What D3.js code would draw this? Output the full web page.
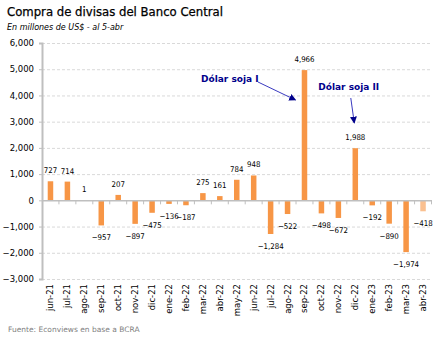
<!DOCTYPE html>
<html><head><meta charset="utf-8">
<script src="https://cdn.jsdelivr.net/npm/d3@7"></script>
<style>body{margin:0;background:#fff}svg{display:block}</style>
</head><body>
<script>
const categories = ["jun-21","jul-21","ago-21","sep-21","oct-21","nov-21","dic-21","ene-22","feb-22","mar-22","abr-22","may-22","jun-22","jul-22","ago-22","sep-22","oct-22","nov-22","dic-22","ene-23","feb-23","mar-23","abr-23"];
const values = [727,714,1,-957,207,-897,-475,-136,-187,275,161,784,948,-1284,-522,4966,-498,-672,1988,-192,-890,-1974,-418];
const yTicks = [6000,5000,4000,3000,2000,1000,0,-1000,-2000,-3000];
const title = "Compra de divisas del Banco Central";
const subtitle = "En millones de US$ - al 5-abr";
const source = "Fuente: Econviews en base a BCRA";
const annotations = [
  {text:"Dólar soja I", cat:"sep-22"},
  {text:"Dólar soja II", cat:"dic-22"}
];

const W=443,H=340;
const svg=d3.select("body").append("svg").attr("width",W).attr("height",H);
const font="'DejaVu Sans', Verdana, sans-serif";
const fontC="'DejaVu Sans Condensed', 'DejaVu Sans', sans-serif";
const x=d3.scaleBand().domain(categories).range([42,431.5]).paddingInner(0).paddingOuter(0);
const y=d3.scaleLinear().domain([-3000,6000]).range([279,43]);
const fmt=d3.format(",");

svg.append("text").attr("x",7).attr("y",16).attr("font-family",font).attr("font-size",11.7)
  .attr("fill","#000").attr("stroke","#000").attr("stroke-width",0.25).text(title);
svg.append("text").attr("x",7).attr("y",30).attr("font-family",font).attr("font-size",8).attr("font-style","italic").attr("fill","#000").text(subtitle);

// gridlines
svg.append("g").selectAll("line").data(yTicks.filter(d=>d!==0)).join("line")
  .attr("x1",42).attr("x2",432).attr("y1",d=>y(d)+0.5).attr("y2",d=>y(d)+0.5)
  .attr("stroke","#d9d9d9").attr("stroke-dasharray","3,2").attr("stroke-width",1);

// y axis
const yAxis=d3.axisLeft(y).tickValues(yTicks).tickFormat(fmt).tickSize(3).tickPadding(5);
const gy=svg.append("g").attr("transform","translate(42,0)").call(yAxis);
gy.select(".domain").attr("stroke","#bfbfbf").attr("stroke-width",2);
gy.selectAll(".tick line").attr("stroke","#bfbfbf");
gy.selectAll("text").attr("font-family",font).attr("font-size",8.5).attr("fill","#000");

// bars
svg.append("g").selectAll("rect").data(values).join("rect")
  .attr("x",(d,i)=>x(categories[i])+x.bandwidth()/2-2.75)
  .attr("width",5.5)
  .attr("y",d=>y(Math.max(0,d)))
  .attr("height",d=>Math.abs(y(d)-y(0)))
  .attr("fill",(d,i)=>i===values.length-1?"#fac090":"#f79646");

// x axis at zero
const gx=svg.append("g").attr("transform",`translate(0,${y(0)})`);
gx.append("line").attr("x1",42).attr("x2",432).attr("y1",0.5).attr("y2",0.5).attr("stroke","#bfbfbf").attr("stroke-width",1.5);
gx.selectAll(".tk").data(categories).join("line")
  .attr("x1",(d,i)=>42+x.step()*(i+1)).attr("x2",(d,i)=>42+x.step()*(i+1))
  .attr("y1",0).attr("y2",4).attr("stroke","#bfbfbf");

// x labels
svg.append("g").selectAll("text").data(categories).join("text")
  .attr("transform",d=>`translate(${x(d)+x.bandwidth()/2+3},284) rotate(-90)`)
  .attr("text-anchor","end").attr("font-family",font).attr("font-size",8.5).attr("fill","#000").text(d=>d);

// data labels
svg.append("g").selectAll("text").data(values).join("text")
  .attr("x",(d,i)=>x(categories[i])+x.bandwidth()/2)
  .attr("y",d=>d>=0?y(d)-8:y(d)+15)
  .attr("text-anchor","middle").attr("font-family",fontC).attr("font-size",7.8).attr("fill","#000")
  .text(d=>fmt(d));

// annotations
const navy="#00008b";
const defs=svg.append("defs");
defs.append("marker").attr("id","ah").attr("viewBox","0 0 10 10").attr("refX",9).attr("refY",5)
  .attr("markerWidth",7).attr("markerHeight",7).attr("orient","auto")
  .append("path").attr("d","M0,0L10,5L0,10z").attr("fill",navy);
const a1x=x(annotations[0].cat), a2x=x(annotations[1].cat)+x.bandwidth()/2;
svg.append("text").attr("x",a1x-95).attr("y",82).attr("font-family",font).attr("font-weight","bold").attr("font-size",9).attr("fill",navy).text(annotations[0].text);
svg.append("line").attr("x1",a1x-38).attr("y1",82).attr("x2",a1x-0.5).attr("y2",100)
  .attr("stroke","#3a3ac0").attr("stroke-width",1).attr("marker-end","url(#ah)");
svg.append("text").attr("x",a2x-37).attr("y",90).attr("font-family",font).attr("font-weight","bold").attr("font-size",9).attr("fill",navy).text(annotations[1].text);
svg.append("line").attr("x1",a2x-4.5).attr("y1",98).attr("x2",a2x-1).attr("y2",123)
  .attr("stroke","#3a3ac0").attr("stroke-width",1).attr("marker-end","url(#ah)");

svg.append("text").attr("x",8).attr("y",332).attr("font-family",font).attr("font-size",7.5).attr("fill","#7f7f7f").text(source);
</script>
</body></html>
